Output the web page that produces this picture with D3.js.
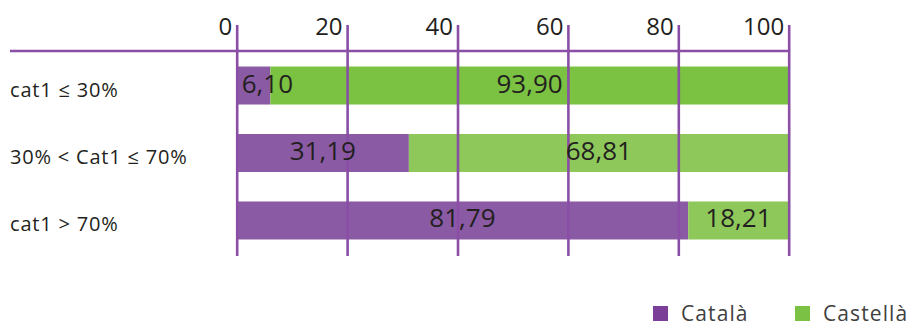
<!DOCTYPE html>
<html>
<head>
<meta charset="utf-8">
<script src="https://cdn.jsdelivr.net/npm/d3@7"></script>
<style>
  body { margin: 0; background: #fff; }
  svg text { font-family: "Open Sans", sans-serif; fill: #231f20; }
</style>
</head>
<body>
<svg id="chart" width="913" height="326"></svg>
<script>
// chart data
var categories = ["cat1 ≤ 30%", "30% < Cat1 ≤ 70%", "cat1 > 70%"];
var seriesNames = ["Català", "Castellà"];
var catala = [6.10, 31.19, 81.79];
var castella = [93.90, 68.81, 18.21];
var tickValues = [0, 20, 40, 60, 80, 100];

// styles
var purple = "#8b5aa5",
    legendPurple = "#7c3f98",
    axisColor = "#8a4ea6",
    greens = ["#7bc142", "#8ec85a", "#8ec85a"],
    legendColors = [legendPurple, "#7bc143"];

var svg = d3.select("#chart");

var x = d3.scaleLinear().domain([0, 100]).range([236.7, 788.7]);
var y = d3.scaleBand().domain(categories).range([51, 255])
  .paddingInner(0.437).paddingOuter(0.23);

var fmt = d3.formatLocale({decimal: ",", thousands: ".", grouping: [3], currency: ["", "€"]}).format(".2f");

var rows = categories.map(function(c, i) {
  return [
    {cat: c, row: i, s: 0, x0: 0, x1: catala[i], v: catala[i]},
    {cat: c, row: i, s: 1, x0: catala[i], x1: catala[i] + castella[i], v: castella[i]}
  ];
});
var segs = d3.merge(rows);

// bars
svg.append("g").selectAll("rect")
  .data(segs)
  .enter()
  .append("rect")
    .attr("x", function(d){ return x(d.x0); })
    .attr("width", function(d){ return x(d.x1) - x(d.x0); })
    .attr("y", function(d){ return y(d.cat); })
    .attr("height", y.bandwidth())
    .attr("fill", function(d){ return d.s === 0 ? purple : greens[d.row]; });

// axis on top
var axis = d3.axisTop(x).tickValues(tickValues).tickSize(0).tickFormat(d3.format("d"));
var gx = svg.append("g").attr("transform", "translate(0,51)").call(axis);
gx.select(".domain").remove();
gx.selectAll(".tick line")
  .attr("y1", -26).attr("y2", 205)
  .attr("stroke", axisColor).attr("stroke-width", 2.6);
gx.selectAll(".tick text")
  .attr("x", -5).attr("y", -16).attr("dy", 0)
  .attr("text-anchor", "end")
  .style("font-family", "'Open Sans', sans-serif")
  .style("font-size", "24px")
  .attr("fill", "#231f20");
gx.append("line")
  .attr("x1", 10).attr("x2", x(100))
  .attr("y1", 0).attr("y2", 0)
  .attr("stroke", axisColor).attr("stroke-width", 2.7);

// category labels
svg.append("g").selectAll("text")
  .data(categories)
  .enter()
  .append("text")
    .attr("x", 10)
    .attr("y", function(d){ return y(d) + y.bandwidth() / 2 + 11; })
    .style("font-size", "20px")
    .style("letter-spacing", "0.8px")
    .text(function(d){ return d; });

// value labels
svg.append("g").selectAll("text")
  .data(segs)
  .enter()
  .append("text")
    .attr("y", function(d){ return y(d.cat) + y.bandwidth() / 2 + 7; })
    .style("font-size", "26px")
    .text(function(d){ return fmt(d.v); })
    .each(function(d) {
      var w = this.getComputedTextLength(),
          a = x(d.x0), b = x(d.x1);
      if (w > b - a) {
        d3.select(this).attr("x", a + 5).attr("text-anchor", "start");
      } else {
        d3.select(this).attr("x", (a + b) / 2).attr("text-anchor", "middle");
      }
    });

// legend
var legendX = [653, 795];
var leg = svg.append("g").selectAll("g")
  .data(seriesNames)
  .enter()
  .append("g")
    .attr("transform", function(d, i){ return "translate(" + legendX[i] + ",306)"; });
leg.append("rect")
  .attr("width", 15).attr("height", 15)
  .attr("fill", function(d, i){ return legendColors[i]; });
leg.append("text")
  .attr("x", 28).attr("y", 14.5)
  .style("font-size", "21px")
  .style("letter-spacing", "1.1px")
  .style("fill", "#404040")
  .text(function(d){ return d; });
</script>
</body>
</html>
